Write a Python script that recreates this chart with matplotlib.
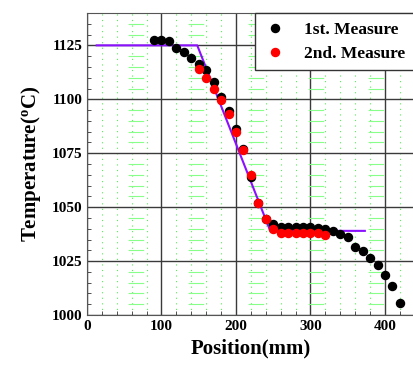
#import necessary libraries
import numpy as np
import matplotlib
matplotlib.use('Agg')
import matplotlib.pyplot as plt
from matplotlib.ticker import MultipleLocator

#data
pos_1st = [90, 100, 110, 120, 130, 140, 150, 160, 170, 180, 190, 200, 210, 220, 230, 240, 250,
           260, 270, 280, 290, 300, 310, 320, 330, 340, 350, 360, 370, 380, 390, 400, 410, 420]
temp_1st = [1127.5, 1127.5, 1127, 1124, 1122, 1119, 1116.5, 1113.5, 1108, 1101, 1094.5, 1086,
            1077, 1064, 1052, 1044.5, 1042, 1041, 1041, 1041, 1041, 1041, 1040.5, 1040, 1039,
            1037.5, 1036, 1031.5, 1029.5, 1026.5, 1023, 1018.5, 1013.5, 1005.5]
pos_2nd = [150, 160, 170, 180, 190, 200, 210, 220, 230, 240, 250, 260, 270, 280, 290, 300, 310, 320]
temp_2nd = [1114, 1110, 1105, 1099.5, 1093, 1085, 1076.5, 1065, 1052, 1044.5, 1040, 1038, 1038,
            1038, 1038, 1038, 1038, 1037]
#fitted profile (purple line)
pos_fit = [13, 148, 246, 373]
temp_fit = [1125, 1125, 1039, 1039]

plt.rcParams['font.family'] = ['Liberation Serif']
plt.rcParams['font.weight'] = 'bold'
plt.rcParams['axes.labelweight'] = 'bold'

fig = plt.figure(figsize=(4.14, 3.68), dpi=100)
ax = fig.add_axes([87/414, 53/368, 327/414, 302/368])

#grid: dark major lines, green dotted minor lines
ax.xaxis.set_major_locator(MultipleLocator(100))
ax.xaxis.set_minor_locator(MultipleLocator(20))
ax.yaxis.set_major_locator(MultipleLocator(25))
ax.yaxis.set_minor_locator(MultipleLocator(5))
ax.grid(which='major', color='#3a3a3a', linewidth=1)
ax.grid(which='minor', axis='x', color='#55ee55', linewidth=0.8, linestyle=(0, (1, 4)))
ax.grid(which='minor', axis='y', color='#88ff88', linewidth=0.8, linestyle=(17, (14, 40)))
ax.set_axisbelow(True)

ax.plot(pos_fit, temp_fit, color='#8a10ff', linewidth=1.5, zorder=2)
ax.plot(pos_1st, temp_1st, 'o', color='black', markersize=5.8, label='1st. Measure', zorder=3)
ax.plot(pos_2nd, temp_2nd, 'o', color='red', markersize=5.8, label='2nd. Measure', zorder=4)

ax.set_xlim(0, 439)
ax.set_ylim(1000, 1140)
ax.tick_params(which='both', direction='in', labelsize=11, colors='#333333', labelcolor='black')
ax.tick_params(which='major', length=0)
ax.tick_params(which='minor', length=3)
for s in ax.spines.values():
    s.set_color('#555555')

ax.set_xlabel('Position(mm)', fontsize=15, labelpad=4)
ax.set_ylabel(r'Temperature($\mathregular{^o}$C)', fontsize=15, labelpad=6)

leg = ax.legend(loc='upper left', bbox_to_anchor=(0.514, 0, 0.52, 1.0), mode='expand',
                fontsize=12.5, frameon=True, fancybox=False, edgecolor='#333333',
                handletextpad=1.0, borderpad=0.5, labelspacing=0.45, handlelength=1.3,
                borderaxespad=0)
leg.get_frame().set_linewidth(1)
leg.get_frame().set_alpha(1)

plt.savefig('out.png', dpi=100)
